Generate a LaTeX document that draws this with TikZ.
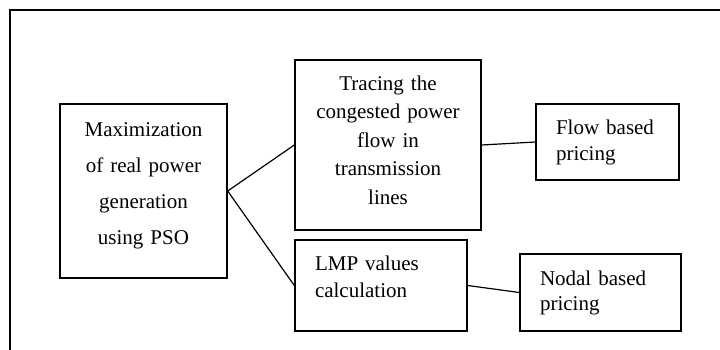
\documentclass[tikz,border=0pt]{standalone}
\usepackage{fontspec}
\setmainfont{Liberation Serif}
\newcommand{\deeper}[1]{\rule[-#1]{0pt}{#1}}
\tikzset{
  box/.style={draw, line width=1.4pt, inner sep=0pt, font=\fontsize{21}{26}\selectfont},
  boxl/.style={box, align=left, inner xsep=20pt},
  link/.style={line width=1.2pt}
}
\begin{document}
\begin{tikzpicture}[x=1pt,y=-1pt]
\useasboundingbox (0,0) rectangle (720,350);
% outer frame, open at the right and bottom
\draw[line width=2pt] (10,350) -- (10,10) -- (720,10);
\node[box, minimum width=167pt, minimum height=174pt, text width=160pt, align=center,
  font=\fontsize{21}{36}\selectfont] (gen) at (143.5,191)
  {Maximization\\of real power\\generation\\using PSO\deeper{14.6pt}};
\node[box, minimum width=186pt, minimum height=170pt, text width=180pt, align=center,
  font=\fontsize{21}{28.5}\selectfont] (trace) at (388,145)
  {Tracing the\\congested power\\flow in\\transmission\\lines\deeper{10.3pt}};
\node[boxl, minimum width=172pt, minimum height=91pt, text width=132pt,
  font=\fontsize{21}{27}\selectfont] (lmp) at (381,285.5)
  {LMP values\\calculation\deeper{18.3pt}};
\node[boxl, minimum width=143pt, minimum height=76pt, text width=103pt] (flow) at (607.5,142)
  {Flow based\\pricing};
\node[boxl, minimum width=161pt, minimum height=77pt, text width=121pt,
  font=\fontsize{21}{25}\selectfont] (nodal) at (600.5,292.5)
  {Nodal based\\pricing};
\draw[link] (gen.east) -- (trace.west);
\draw[link] (gen.east) -- (lmp.west);
\draw[link] (trace.east) -- (flow.west);
\draw[link] (lmp.east) -- (nodal.west);
\end{tikzpicture}
\end{document}
